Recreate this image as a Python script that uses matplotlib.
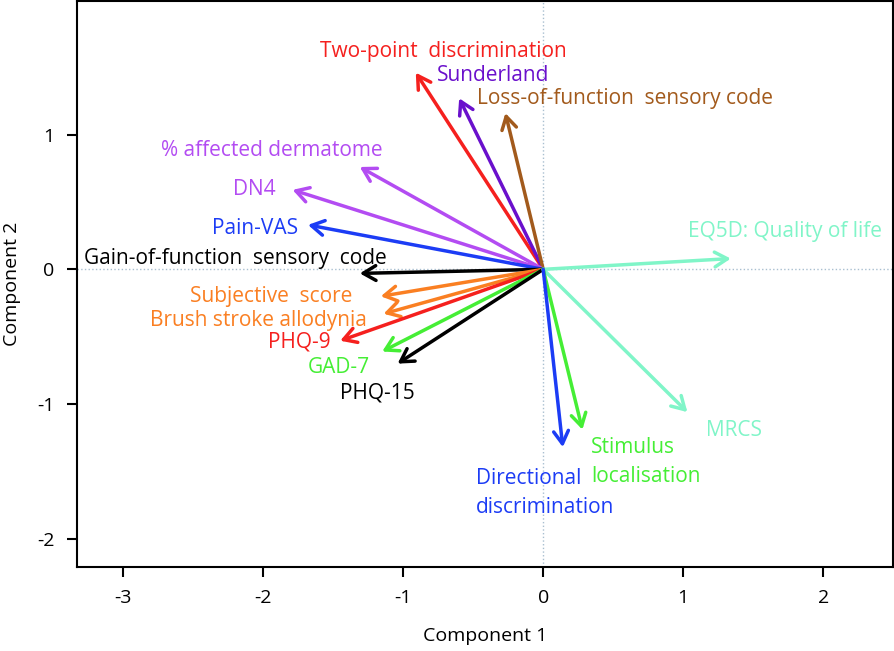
import matplotlib.pyplot as plt

plt.rcParams.update({
    "font.family": ["Open Sans", "DejaVu Sans"],
    "font.size": 14,
    "axes.unicode_minus": False,
})

# ---------------- Loadings (arrow tips) ----------------
variables = [
    "Two-point  discrimination", "Sunderland", "Loss-of-function  sensory code",
    "% affected dermatome", "DN4", "Pain-VAS", "Gain-of-function  sensory  code",
    "Subjective  score", "Brush stroke allodynia", "PHQ-9", "GAD-7", "PHQ-15",
    "EQ5D: Quality of life", "MRCS", "Stimulus\nlocalisation",
    "Directional\ndiscrimination",
]
comp1 = [-0.91, -0.60, -0.27, -1.31, -1.79, -1.68, -1.31,
         -1.16, -1.14, -1.45, -1.15, -1.04, 1.34, 1.03, 0.28, 0.14]
comp2 = [1.46, 1.27, 1.16, 0.76, 0.59, 0.33, -0.03,
         -0.20, -0.33, -0.53, -0.61, -0.70, 0.08, -1.06, -1.19, -1.32]

# label anchor points
label_x = [-0.71, -0.76, -0.47, -1.94, -2.06, -2.06, -2.20,
           -1.36, -1.26, -1.52, -1.24, -0.92, 1.73, 1.36, 0.34, -0.48]
label_y = [1.62, 1.44, 1.27, 0.88, 0.59, 0.30, 0.08,
           -0.20, -0.38, -0.54, -0.73, -0.92, 0.28, -1.20, -1.43, -1.66]
label_ha = ["center", "left", "left", "center", "center", "center", "center",
            "right", "right", "right", "right", "right", "center", "center",
            "left", "left"]

red, purple, brown = "#f5201e", "#6a10cc", "#a25a1c"
violet, blue, orange = "#b34cf2", "#1c3cf5", "#fa7f22"
green, aqua = "#45ee35", "#80f5c8"
colors = [red, purple, brown, violet, violet, blue, "black",
          orange, orange, red, green, "black", aqua, aqua, green, blue]

fig = plt.figure(figsize=(8.95, 6.51), dpi=100)
ax = fig.add_axes([0.086, 0.129, 0.912, 0.869])

ax.axhline(0, color="#a9bfd0", lw=1, ls=":", zorder=0)
ax.axvline(0, color="#a9bfd0", lw=1, ls=":", zorder=0)

for x, y, c in zip(comp1, comp2, colors):
    ax.annotate("", xy=(x, y), xytext=(0, 0),
                arrowprops=dict(arrowstyle="->,head_length=0.65,head_width=0.38",
                                color=c, lw=2.5, shrinkA=0, shrinkB=0))

for t, x, y, ha, c in zip(variables, label_x, label_y, label_ha, colors):
    ax.text(x, y, t, color=c, ha=ha, va="center", fontsize=15,
            linespacing=1.5)

ax.set_xlim(-3.33, 2.5)
ax.set_ylim(-2.21, 1.99)
ax.set_xticks([-3, -2, -1, 0, 1, 2])
ax.set_yticks([-2, -1, 0, 1])
ax.tick_params(direction="out", length=7, width=1.5, labelsize=14, pad=9)
for s in ax.spines.values():
    s.set_linewidth(1.5)
ax.set_xlabel("Component 1", fontsize=14, labelpad=14)
ax.set_ylabel("Component 2", fontsize=14, labelpad=12)

fig.savefig("out.png", dpi=100)
